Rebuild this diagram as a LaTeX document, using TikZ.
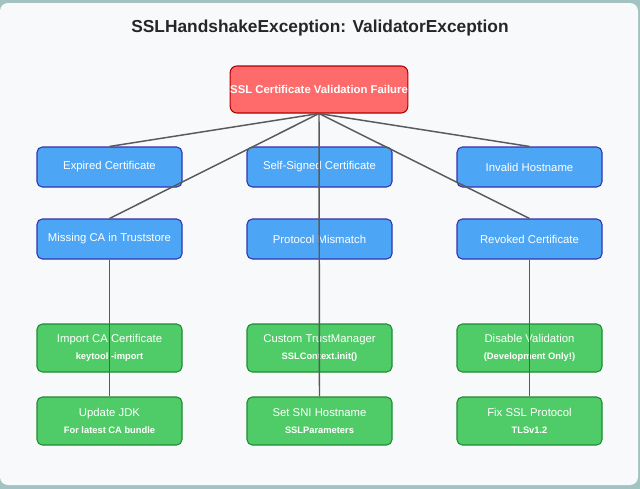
\documentclass[tikz,border=0pt]{standalone}
\usepackage{fontspec}
\setmainfont{Liberation Sans}
\begin{document}
\begin{tikzpicture}[x=0.75pt,y=-0.75pt,
  blue/.style={draw=blue!60!black!80,fill=bfill,rounded corners=4pt,line width=0.8pt,minimum width=108.75pt,minimum height=30pt,text=white,font=\fontsize{8.5}{10}\selectfont,inner sep=0pt},
  green/.style={draw=gborder,fill=gfill,rounded corners=4pt,line width=0.8pt,minimum width=108.75pt,minimum height=36pt,text=white,font=\fontsize{8.5}{10}\selectfont,align=center,inner sep=0pt},
  conn/.style={draw=lgray,line width=1.1pt}]
\definecolor{bfill}{HTML}{4DA6F5}
\definecolor{gfill}{HTML}{4FCC67}
\definecolor{gborder}{HTML}{1E8C34}
\definecolor{rfill}{HTML}{FF6B6B}
\definecolor{lgray}{HTML}{5A5A5A}
\definecolor{outer}{HTML}{A3C2C2}
\definecolor{card}{HTML}{F8F9FB}
\fill[outer] (0,0) rectangle (640,489);
\fill[card,rounded corners=6pt] (0,3) rectangle (638,485);
\useasboundingbox (0,0) rectangle (640,489);
\node[font=\bfseries\fontsize{13}{15}\selectfont,text=black!85] (title) at (320,28) {SSLHandshakeException: ValidatorException};
\node[draw=red!70!black,fill=rfill,rounded corners=5pt,line width=0.8pt,minimum width=121.5pt,minimum height=35.25pt,inner sep=0pt,text=white,font=\bfseries\fontsize{8.5}{10}\selectfont] (root) at (319,89.5) {SSL Certificate Validation Failure};
\foreach \n/\x/\y/\t in {exp/109.5/167/Expired Certificate, self/319.5/167/Self-Signed Certificate, inv/529.5/167/Invalid Hostname, miss/109.5/239/Missing CA in Truststore, prot/319.5/239/Protocol Mismatch, rev/529.5/239/Revoked Certificate}
  \node[blue] (\n) at (\x,\y) {\t};
\foreach \n/\x/\y/\a/\b in {imp/109.5/348/Import CA Certificate/keytool -import, cust/319.5/348/Custom TrustManager/SSLContext.init(), dis/529.5/348/Disable Validation/(Development Only!), upd/109.5/421/Update JDK/For latest CA bundle, sni/319.5/421/Set SNI Hostname/SSLParameters, fix/529.5/421/Fix SSL Protocol/TLSv1.2/1.3}
  \node[green] (\n) at (\x,\y) {\a\\[3pt]{\fontsize{7}{8}\selectfont\bfseries \b}};
\draw[conn] (root.south) -- (exp.north);
\draw[conn] (root.south) -- (inv.north);
\draw[conn] (root.south) -- (miss.north);
\draw[conn] (root.south) -- (rev.north);
\draw[conn] (root.south) -- (sni.north);
\draw[conn] (miss.south) -- (upd.north);
\draw[conn] (rev.south) -- (fix.north);
\end{tikzpicture}
\end{document}
